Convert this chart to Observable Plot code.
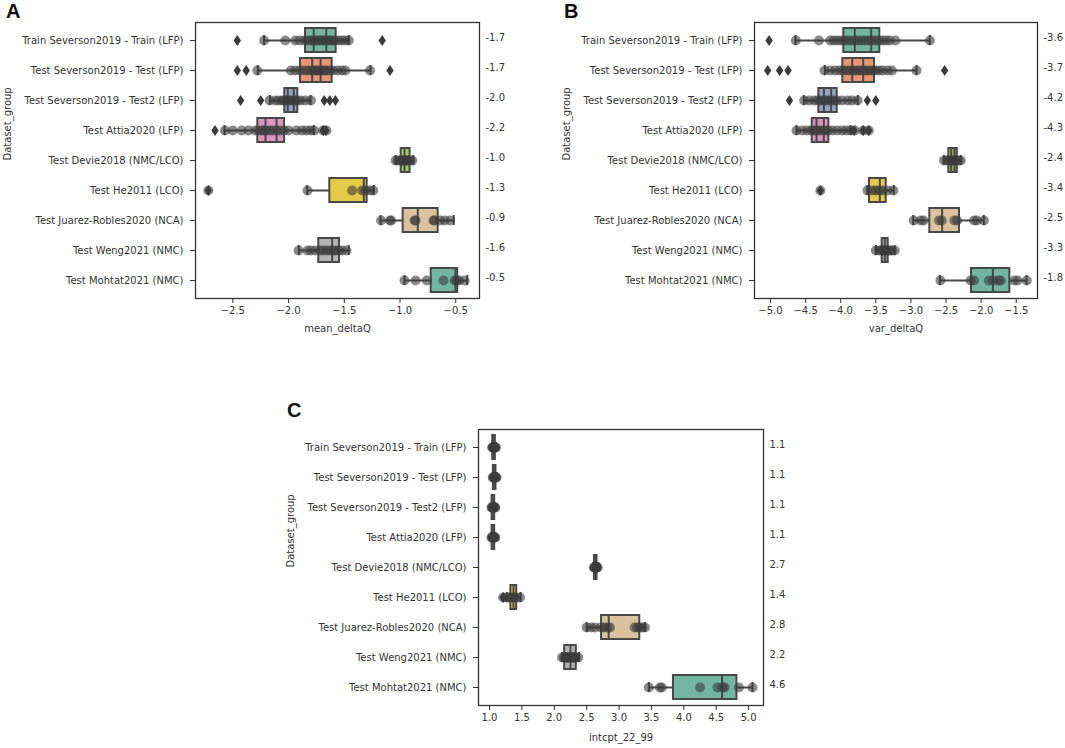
<!DOCTYPE html>
<html>
<head>
<meta charset="utf-8">
<script src="https://cdn.jsdelivr.net/npm/d3@7"></script>
<script src="https://cdn.jsdelivr.net/npm/@observablehq/plot@0.6"></script>
<style>
  body { margin: 0; background: #fff; }
  #wrap { position: relative; width: 1065px; height: 748px; background: #fff; overflow: hidden; }
  .letter { position: absolute; font-family: "Liberation Sans", Arial, sans-serif; font-weight: bold; font-size: 20px; line-height: 20px; color: #111; }
  #wrap svg { position: absolute; overflow: visible; }
</style>
</head>
<body>
<div id="wrap">
  <div class="letter" style="left:6px;top:1px">A</div>
  <div class="letter" style="left:564px;top:1px">B</div>
  <div class="letter" style="left:287px;top:400px">C</div>
</div>
<script>
// ---------- shared categories & palette ----------
const groups = [
  "Train Severson2019 - Train (LFP)",
  "Test Severson2019 - Test (LFP)",
  "Test Severson2019 - Test2 (LFP)",
  "Test Attia2020 (LFP)",
  "Test Devie2018 (NMC/LCO)",
  "Test He2011 (LCO)",
  "Test Juarez-Robles2020 (NCA)",
  "Test Weng2021 (NMC)",
  "Test Mohtat2021 (NMC)"
];
const boxColors = ["#66c2a5","#fc8d62","#8da0cb","#e78ac3","#a6d854","#ffd92f","#e5c494","#b3b3b3","#66c2a5"];

// ---------- Panel A: mean_deltaQ ----------
const aQ1    = [-1.848,-1.893,-2.034,-2.276,-0.99,-1.63,-0.972,-1.729,-0.72];
const aMed   = [-1.774,-1.788,-2.007,-2.207,-0.96,-1.325,-0.841,-1.609,-0.503];
const aLine2 = [-1.662,-1.713,-1.953,-2.108,null,null,null,null,null];
const aQ3    = [-1.573,-1.609,-1.917,-2.036,-0.91,-1.295,-0.658,-1.543,-0.482];
const aWLo   = [-2.22,-2.276,-2.168,-2.575,-1.04,-1.833,-1.175,-1.908,-0.96];
const aWHi   = [-1.46,-1.265,-1.803,-1.773,-0.88,-1.235,-0.518,-1.46,-0.398];
const aPoints = [
  [-2.22,-2.03,-1.94,-1.90,-1.86,-1.83,-1.80,-1.78,-1.76,-1.74,-1.72,-1.70,-1.68,-1.66,-1.64,-1.62,-1.60,-1.58,-1.55,-1.52,-1.49,-1.46],
  [-2.28,-1.98,-1.94,-1.90,-1.86,-1.83,-1.80,-1.78,-1.76,-1.74,-1.72,-1.70,-1.68,-1.66,-1.63,-1.60,-1.56,-1.52,-1.49,-1.27],
  [-2.17,-2.12,-2.09,-2.06,-2.04,-2.02,-2.00,-1.98,-1.96,-1.94,-1.92,-1.89,-1.85,-1.80],
  [-2.57,-2.50,-2.42,-2.36,-2.30,-2.27,-2.24,-2.22,-2.20,-2.17,-2.14,-2.11,-2.08,-2.04,-2.00,-1.93,-1.88,-1.84,-1.80,-1.77,-1.69,-1.66],
  [-1.04,-1.02,-1.00,-0.98,-0.97,-0.96,-0.95,-0.94,-0.93,-0.91,-0.89],
  [-2.72,-1.83,-1.43,-1.34,-1.31,-1.27,-1.24],
  [-1.17,-1.09,-1.08,-0.87,-0.86,-0.70,-0.69,-0.64,-0.60,-0.55],
  [-1.91,-1.83,-1.80,-1.76,-1.72,-1.69,-1.66,-1.63,-1.60,-1.58,-1.55,-1.52,-1.48],
  [-0.96,-0.86,-0.76,-0.61,-0.51,-0.49,-0.47,-0.42]
];
const aFliers = [[-2.46,-1.16],[-2.46,-2.38,-1.09],[-2.43,-2.25,-1.68,-1.63,-1.58],[-2.66,-1.69,-1.665],[],[-2.72],[],[],[]];
const aLabels = ["-1.7","-1.7","-2.0","-2.2","-1.0","-1.3","-0.9","-1.6","-0.5"];
const aTicks = [-2.5,-2.0,-1.5,-1.0,-0.5];

// ---------- Panel B: var_deltaQ ----------
const bQ1    = [-3.956,-3.97,-4.312,-4.406,-2.46,-3.59,-2.731,-3.409,-2.137];
const bMed   = [-3.799,-3.836,-4.24,-4.345,-2.426,-3.443,-2.555,-3.372,-1.833];
const bLine2 = [-3.566,-3.68,-4.136,-4.24,-2.379,null,null,null,null];
const bQ3    = [-3.443,-3.519,-4.05,-4.169,-2.34,-3.352,-2.308,-3.324,-1.591];
const bWLo   = [-4.644,-4.226,-4.525,-4.63,-2.53,-3.623,-2.967,-3.50,-2.588];
const bWHi   = [-2.731,-2.92,-3.756,-3.86,-2.29,-3.244,-1.961,-3.23,-1.353];
const bPoints = [
  [-4.64,-4.31,-4.15,-4.10,-4.05,-4.00,-3.95,-3.90,-3.85,-3.80,-3.75,-3.70,-3.65,-3.60,-3.55,-3.50,-3.45,-3.40,-3.35,-3.30,-3.22,-2.73],
  [-4.23,-4.15,-4.08,-4.02,-3.97,-3.92,-3.87,-3.82,-3.78,-3.74,-3.70,-3.66,-3.62,-3.58,-3.54,-3.50,-3.45,-3.40,-3.33,-3.27,-2.92],
  [-4.52,-4.45,-4.38,-4.33,-4.29,-4.25,-4.21,-4.17,-4.13,-4.09,-4.05,-3.98,-3.90,-3.84,-3.76],
  [-4.63,-4.55,-4.48,-4.42,-4.38,-4.34,-4.30,-4.26,-4.22,-4.18,-4.12,-4.05,-3.98,-3.92,-3.86,-3.80,-3.68,-3.60],
  [-2.53,-2.49,-2.46,-2.43,-2.41,-2.39,-2.37,-2.35,-2.32,-2.29],
  [-4.29,-3.62,-3.55,-3.50,-3.45,-3.40,-3.33,-3.25],
  [-2.96,-2.86,-2.82,-2.60,-2.56,-2.38,-2.34,-2.10,-2.06,-1.96],
  [-3.50,-3.45,-3.42,-3.40,-3.38,-3.36,-3.34,-3.32,-3.30,-3.27,-3.23],
  [-2.58,-2.15,-2.10,-1.89,-1.83,-1.75,-1.72,-1.53,-1.48,-1.35]
];
const bFliers = [[-5.02],[-5.04,-4.87,-4.75,-2.52],[-4.73,-3.62,-3.50],[-3.81,-3.68,-3.60],[],[-4.29],[],[],[]];
const bLabels = ["-3.6","-3.7","-4.2","-4.3","-2.4","-3.4","-2.5","-3.3","-1.8"];
const bTicks = [-5.0,-4.5,-4.0,-3.5,-3.0,-2.5,-2.0,-1.5];

// ---------- Panel C: intcpt_22_99 ----------
const cQ1    = [1.05,1.06,1.04,1.04,2.62,1.33,2.73,2.16,3.84];
const cMed   = [1.07,1.08,1.06,1.06,2.64,1.37,2.84,2.25,4.59];
const cLine2 = [null,null,null,null,null,null,null,null,null];
const cQ3    = [1.09,1.10,1.08,1.08,2.66,1.42,3.32,2.34,4.82];
const cWLo   = [1.04,1.05,1.03,1.03,2.60,1.27,2.50,2.12,3.46];
const cWHi   = [1.10,1.11,1.09,1.09,2.68,1.48,3.40,2.38,5.06];
const cPoints = [
  [1.04,1.05,1.06,1.07,1.07,1.08,1.09,1.10],
  [1.05,1.06,1.07,1.08,1.08,1.09,1.10,1.11],
  [1.03,1.04,1.05,1.06,1.06,1.07,1.08,1.09],
  [1.03,1.04,1.05,1.06,1.06,1.07,1.08,1.09],
  [2.61,2.62,2.63,2.64,2.64,2.65,2.66,2.67],
  [1.21,1.27,1.31,1.35,1.38,1.42,1.47],
  [2.50,2.57,2.63,2.72,2.77,2.82,2.86,3.24,3.28,3.32,3.36,3.40],
  [2.12,2.15,2.17,2.18,2.19,2.20,2.21,2.22,2.24,2.26,2.28,2.29,2.30,2.31,2.33,2.37],
  [3.46,3.63,3.66,4.25,4.52,4.60,4.63,4.85,5.06]
];
const cFliers = [[],[],[],[],[],[1.21],[],[],[]];
const cLabels = ["1.1","1.1","1.1","1.1","2.7","1.4","2.8","2.2","4.6"];
const cTicks = [1.0,1.5,2.0,2.5,3.0,3.5,4.0,4.5,5.0];

// ---------- drawing ----------
const edge = "#484848";
const thinDiamond = {
  draw(context, size) {
    const r = Math.sqrt(size / Math.PI);
    const w = r * 0.66;
    context.moveTo(0, -r); context.lineTo(w, 0); context.lineTo(0, r); context.lineTo(-w, 0); context.closePath();
  }
};
function desat(c) { const h = d3.hsl(c); h.s *= 0.75; return h.formatHex(); }

function panel(cfg) {
  const rows = groups.map((g, i) => ({
    g, q1: cfg.q1[i], med: cfg.med[i], line2: cfg.line2[i], q3: cfg.q3[i],
    wlo: cfg.wlo[i], whi: cfg.whi[i], color: desat(boxColors[i]), label: cfg.labels[i]
  }));
  const pts = cfg.points.flatMap((arr, i) => arr.map(v => ({g: groups[i], v})));
  const fls = cfg.fliers.flatMap((arr, i) => arr.map(v => ({g: groups[i], v})));
  const svg = Plot.plot({
    width: cfg.width, height: cfg.height,
    marginLeft: cfg.ml, marginRight: cfg.mr, marginTop: cfg.mt, marginBottom: cfg.mb,
    style: {fontFamily: "DejaVu Sans, sans-serif", fontSize: "10px", color: "#333", background: "transparent"},
    x: {domain: cfg.xDomain, ticks: cfg.ticks, tickFormat: d3.format(".1f"), tickSize: 5, tickPadding: 3, label: null},
    y: {type: "band", domain: groups, padding: 0, tickSize: 5, tickPadding: 7, label: null},
    color: {type: "identity"},
    marks: [
      Plot.ruleY(rows, {y: "g", x1: "wlo", x2: "q1", stroke: edge, strokeWidth: 2}),
      Plot.ruleY(rows, {y: "g", x1: "q3", x2: "whi", stroke: edge, strokeWidth: 2}),
      Plot.tickX(rows, {x: "wlo", y: "g", stroke: edge, strokeWidth: 2, insetTop: 10, insetBottom: 10}),
      Plot.tickX(rows, {x: "whi", y: "g", stroke: edge, strokeWidth: 2, insetTop: 10, insetBottom: 10}),
      Plot.barX(rows, {y: "g", x1: "q1", x2: "q3", fill: "color", stroke: edge, strokeWidth: 2, insetTop: 3, insetBottom: 3}),
      Plot.tickX(rows, {x: "med", y: "g", stroke: edge, strokeWidth: 2, insetTop: 3, insetBottom: 3}),
      Plot.tickX(rows.filter(d => d.line2 != null), {x: "line2", y: "g", stroke: edge, strokeWidth: 2, insetTop: 3, insetBottom: 3}),
      Plot.dot(fls, {x: "v", y: "g", symbol: thinDiamond, r: 5.6, fill: "#3a3a3a", stroke: "none"}),
      Plot.dot(pts, {x: "v", y: "g", r: 5, fill: "#3c3c3c", fillOpacity: 0.6, stroke: "none"}),
      Plot.frame({stroke: "#333", strokeWidth: 1.3}),
      Plot.text(rows, {y: "g", text: "label", frameAnchor: "right", dx: 6, dy: -3, textAnchor: "start", fill: "#333", fontSize: 10}),
      Plot.text([cfg.xLabel], {frameAnchor: "bottom", dy: cfg.xLabelDy, fill: "#333", fontSize: 10}),
      Plot.text(["Dataset_group"], {frameAnchor: "left", dx: -188, rotate: -90, fill: "#333", fontSize: 10})
    ]
  });
  svg.style.left = cfg.left + "px";
  svg.style.top = cfg.top + "px";
  document.getElementById("wrap").appendChild(svg);
}

panel({left: 0, top: 0, width: 530, height: 345, ml: 195, mr: 51, mt: 22, mb: 47,
  xDomain: [-2.835, -0.287], ticks: aTicks, xLabel: "mean_deltaQ", xLabelDy: 33,
  q1: aQ1, med: aMed, line2: aLine2, q3: aQ3, wlo: aWLo, whi: aWHi, points: aPoints, fliers: aFliers, labels: aLabels});
panel({left: 530, top: 0, width: 535, height: 345, ml: 224, mr: 28, mt: 22, mb: 47,
  xDomain: [-5.228, -1.197], ticks: bTicks, xLabel: "var_deltaQ", xLabelDy: 33,
  q1: bQ1, med: bMed, line2: bLine2, q3: bQ3, wlo: bWLo, whi: bWHi, points: bPoints, fliers: bFliers, labels: bLabels});
panel({left: 250, top: 390, width: 560, height: 358, ml: 228, mr: 47, mt: 39, mb: 43,
  xDomain: [0.83, 5.23], ticks: cTicks, xLabel: "intcpt_22_99", xLabelDy: 35,
  q1: cQ1, med: cMed, line2: cLine2, q3: cQ3, wlo: cWLo, whi: cWHi, points: cPoints, fliers: cFliers, labels: cLabels});
</script>
</body>
</html>
